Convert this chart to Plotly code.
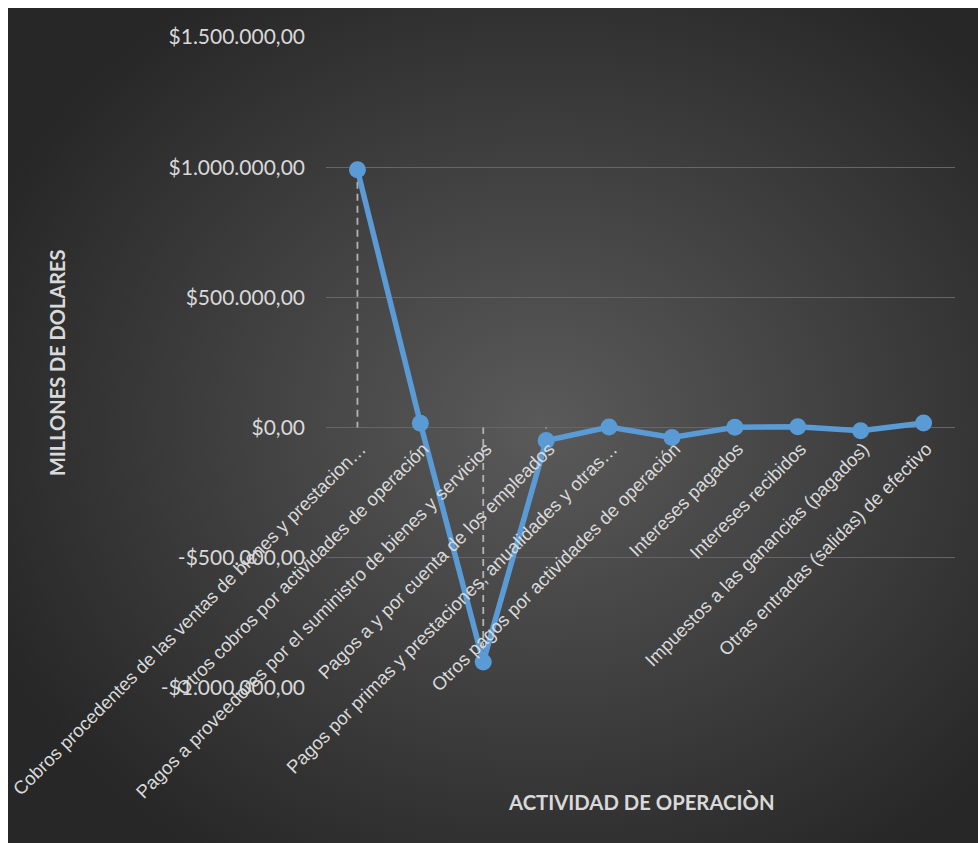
import base64
import plotly.graph_objects as go

# Operating-activity categories (labels as displayed on the category axis)
categorias = [
    "Cobros procedentes de las ventas de bienes y prestacion…",
    "Otros cobros por actividades de operación",
    "Pagos a proveedores por el suministro de bienes y servicios",
    "Pagos a y por cuenta de los empleados",
    "Pagos por primas y prestaciones, anualidades y otras…",
    "Otros pagos por actividades de operación",
    "Intereses pagados",
    "Intereses recibidos",
    "Impuestos a las ganancias (pagados)",
    "Otras entradas (salidas) de efectivo",
]

# Amounts per category
valores = [990000, 17000, -900000, -50000, 2000, -38000, 1000, 3000, -12000, 18000]

# Value-axis ticks
y_ticks = [-1000000, -500000, 0, 500000, 1000000, 1500000]
y_tick_labels = ["-$1.000.000,00", "-$500.000,00", "$0,00",
                 "$500.000,00", "$1.000.000,00", "$1.500.000,00"]

W, H = 978, 843
ML, MR, MT, MB = 326, 23, 37, 155
PW, PH = W - ML - MR, H - MT - MB


def px_x(px):
    return (px - ML) / PW


def px_y(py):
    return (H - MB - py) / PH


# Radial-gradient chart background
grad_svg = (
    '<svg xmlns="http://www.w3.org/2000/svg" width="970" height="835" '
    'viewBox="0 0 970 835" preserveAspectRatio="none">'
    '<defs><radialGradient id="g" cx="0.55" cy="0.5" r="0.62" '
    'gradientUnits="objectBoundingBox">'
    '<stop offset="0" stop-color="#5a5a5a"/>'
    '<stop offset="1" stop-color="#272727"/>'
    '</radialGradient></defs>'
    '<rect width="970" height="835" fill="url(#g)"/></svg>'
)
grad_uri = "data:image/svg+xml;base64," + base64.b64encode(grad_svg.encode()).decode()

# Drop lines from each point to the category axis
drop_x, drop_y = [], []
for c, v in zip(categorias, valores):
    drop_x += [c, c, None]
    drop_y += [v, 0, None]

fig = go.Figure()
fig.add_trace(go.Scatter(
    x=drop_x, y=drop_y, mode="lines",
    line=dict(color="#b3b3b3", width=1.8, dash="7px,5px"),
    hoverinfo="skip", showlegend=False,
))
fig.add_trace(go.Scatter(
    x=categorias, y=valores, mode="lines+markers",
    line=dict(color="#5B9BD5", width=5.5),
    marker=dict(color="#5B9BD5", size=17),
    showlegend=False,
))

fig.update_layout(
    width=W, height=H,
    margin=dict(l=ML, r=MR, t=MT, b=MB, pad=0),
    paper_bgcolor="white",
    plot_bgcolor="rgba(0,0,0,0)",
    images=[dict(
        source=grad_uri, xref="paper", yref="paper",
        x=px_x(8), y=px_y(8), sizex=px_x(W) - px_x(8), sizey=px_y(8) - px_y(H),
        xanchor="left", yanchor="top", sizing="stretch", layer="below",
    )],
    xaxis=dict(
        type="category", categoryorder="array", categoryarray=categorias,
        range=[-0.5, len(categorias) - 0.5],
        anchor="free", position=0.4,
        showgrid=False, showline=False, zeroline=False, ticks="",
        tickangle=-45, ticklabelshift=3, ticklabelstandoff=6,
        tickfont=dict(family="Liberation Sans, Arial", size=18.5, color="#d9d9d9"),
        automargin=False,
    ),
    yaxis=dict(
        range=[-1000000, 1500000],
        tickvals=y_ticks, ticktext=y_tick_labels,
        showgrid=True, gridcolor="#666666", gridwidth=1.3,
        zeroline=False, showline=False, ticks="",
        ticklabelstandoff=20,
        tickfont=dict(family="Lato", size=21, color="#d9d9d9"),
        automargin=False,
    ),
    annotations=[
        dict(text="MILLONES DE DOLARES", textangle=-90,
             xref="paper", yref="paper", x=px_x(57), y=px_y(363),
             xanchor="center", yanchor="middle", showarrow=False,
             font=dict(family="Lato", size=20, color="#d9d9d9", weight="bold")),
        dict(text="ACTIVIDAD DE OPERACIÒN",
             xref="paper", yref="paper", x=px_x(641), y=px_y(802),
             xanchor="center", yanchor="middle", showarrow=False,
             font=dict(family="Lato", size=20.3, color="#d9d9d9", weight="bold")),
    ],
)

fig.write_html("out.html")
